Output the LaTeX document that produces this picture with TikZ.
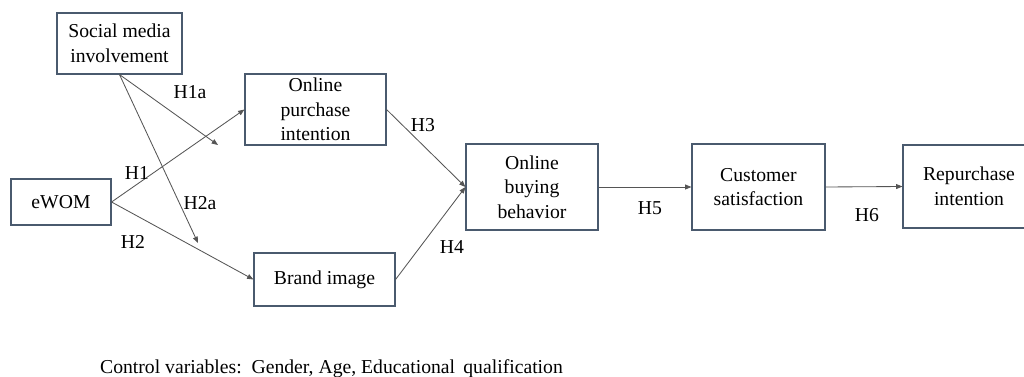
\documentclass[tikz,border=0pt]{standalone}
\usepackage{fontspec}
\setmainfont{Liberation Serif}
\usetikzlibrary{arrows.meta}
\definecolor{boxline}{HTML}{4A5A6E}
\definecolor{arrline}{HTML}{555555}

\begin{document}
\begin{tikzpicture}[
  font=\fontsize{14}{17.5}\selectfont,>={Triangle[length=4.5pt,width=3.5pt]},
  vbox/.style={draw=boxline, line width=0.8pt, align=center, inner sep=0pt},
  hlab/.style={font=\fontsize{14}{16}\selectfont},
  path/.style={->, line width=0.6pt, color=arrline},
]
\useasboundingbox (0,0) rectangle (25.6,9.4);
\node[vbox,minimum width=3.125cm,minimum height=1.525cm] (smi) at (2.9875,8.3125) {Social media\\involvement};
\node[vbox,minimum width=3.525cm,minimum height=1.775cm] (opi) at (7.8875,6.6625) {Online\\purchase\\intention};
\node[vbox,minimum width=2.5cm,minimum height=1.15cm] (ewom) at (1.525,4.35) {eWOM};
\node[vbox,minimum width=3.525cm,minimum height=1.325cm] (bimg) at (8.1125,2.4125) {Brand image};
\node[vbox,minimum width=3.3cm,minimum height=2.15cm] (obb) at (13.3,4.725) {Online\\buying\\behavior};
\node[vbox,minimum width=3.325cm,minimum height=2.15cm] (csat) at (18.9625,4.725) {Customer\\satisfaction};
\node[vbox,minimum width=3.3cm,minimum height=2.075cm] (rint) at (24.225,4.7375) {Repurchase\\intention};
\coordinate (m1a) at (5.45,5.775); \coordinate (m2a) at (4.95,3.325);
\draw[path] (ewom.east)--(opi.west); \draw[path] (ewom.east)--(bimg.west);
\draw[path] (smi.south)--(m1a); \draw[path] (smi.south)--(m2a);
\draw[path] (opi.east)--(obb.west); \draw[path] (bimg.east)--(obb.west);
\draw[path] (obb.east)--(csat.west); \draw[path] (csat.east)--(rint.west);
\node[hlab] (l1a) at (4.75,7.1) {H1a};\node[hlab] (l1) at (3.425,5.075) {H1};\node[hlab] (l2a) at (5.0,4.325) {H2a};\node[hlab] (l2) at (3.325,3.35) {H2};
\node[hlab] (l3) at (10.575,6.275) {H3};\node[hlab] (l4) at (11.3,3.225) {H4};\node[hlab] (l5) at (16.25,4.2) {H5};\node[hlab] (l6) at (21.675,4.025) {H6};
\node[font=\fontsize{14}{16}\selectfont] (ctrl) at (8.2875,0.175) {Control variables:\, Gender, Age, Educational\, qualification};
\end{tikzpicture}
\end{document}
